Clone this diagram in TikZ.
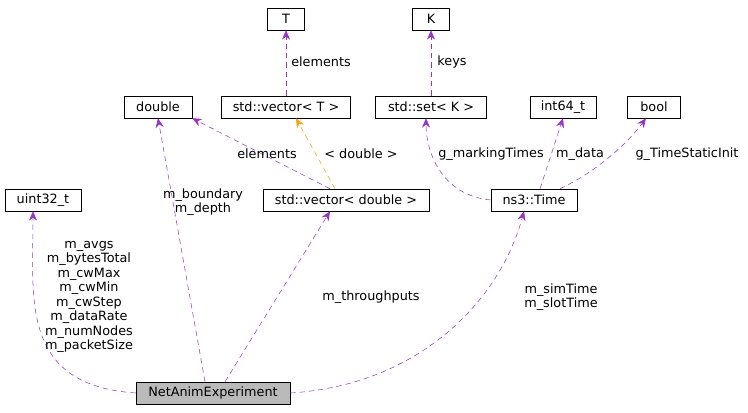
\documentclass[tikz,border=0pt]{standalone}
\usepackage{fontspec}
\setmainfont{DejaVu Sans}
\usetikzlibrary{arrows.meta}
\definecolor{edgepurple}{HTML}{9A32CD}
\definecolor{edgeorange}{HTML}{FFA500}
\tikzset{
  cls/.style={draw=black, fill=white, inner sep=0pt, minimum height=16.5pt, font=\fontsize{9.6}{11}\selectfont},
  rel/.style={draw=edgepurple, dashed, dash pattern=on 4pt off 3pt, -{Stealth[length=7pt,width=6pt]}},
  tpl/.style={draw=edgeorange, dashed, dash pattern=on 4pt off 3pt, -{Stealth[length=7pt,width=6pt]}},
  lbl/.style={font=\fontsize{9.6}{10.9}\selectfont, align=center, inner sep=1pt}
}
\begin{document}
\begin{tikzpicture}[x=0.75pt, y=-0.75pt]
			\useasboundingbox (0,0) rectangle (748,413);
			\node[cls, minimum width=27.75pt] (T) at (286,19) {T};
			\node[cls, minimum width=27.75pt] (K) at (431,19) {K};
			\node[cls, minimum width=51pt] (dbl) at (158,107) {double};
			\node[cls, minimum width=96.75pt] (vecT) at (286,107) {std::vector< T >};
			\node[cls, minimum width=83.25pt] (setK) at (431,107) {std::set< K >};
			\node[cls, minimum width=49.5pt] (i64) at (563,107) {int64\_t};
			\node[cls, minimum width=39.75pt] (bool) at (654,107) {bool};
			\node[cls, minimum width=57pt] (u32) at (43,200) {uint32\_t};
			\node[cls, minimum width=124.5pt] (vecD) at (346,200) {std::vector< double >};
			\node[cls, minimum width=64.5pt] (time) at (534,200) {ns3::Time};
			\node[cls, fill=black!27, minimum width=115.5pt] (exp) at (213,393) {NetAnimExperiment};
			% members
			\draw[rel] (exp.west) .. controls (20,385) and (33,300) .. (u32.south -| 33,0);
			\draw[rel] (exp.north -| 205,0) -- (dbl.south);
			\draw[rel] (exp.north -| 225,0) -- (vecD.south -| 330,0);
			\draw[rel] (exp.east) .. controls (420,385) and (500,300) .. (time.south -| 524,0);
			\draw[rel] (vecD.north -| 330,0) -- (dbl.south east);
			\draw[tpl] (vecD.north -| 335,0) -- (vecT.south -| 296,0);
			\draw[rel] (vecT) -- (T);
			\draw[rel] (setK) -- (K);
			\draw[rel] (time.west) .. controls (440,195) and (426,150) .. (setK.south -| 426,0);
			\draw[rel] (time.north -| 540,0) -- (i64.south);
			\draw[rel] (time.north -| 560,0) .. controls (600,170) and (630,140) .. (bool.south -| 646,0);
			\node[lbl] (l1) at (89,297) {m\_avgs\\m\_bytesTotal\\m\_cwMax\\m\_cwMin\\m\_cwStep\\m\_dataRate\\m\_numNodes\\m\_packetSize};
			\node[lbl] (l2) at (203,202) {m\_boundary\\m\_depth};
			\node[lbl] (l3) at (371,297) {m\_throughputs};
			\node[lbl] (l4) at (561,297) {m\_simTime\\m\_slotTime};
			\node[lbl] (l5) at (267,154) {elements};
			\node[lbl] (l6) at (361,154) {< double >};
			\node[lbl] (l7) at (321,62) {elements};
			\node[lbl] (l8) at (452,62) {keys};
			\node[lbl] (l9) at (491,154) {g\_markingTimes};
			\node[lbl] (l10) at (580,154) {m\_data};
			\node[lbl] (l11) at (687,154) {g\_TimeStaticInit};
		\end{tikzpicture}
\end{document}
